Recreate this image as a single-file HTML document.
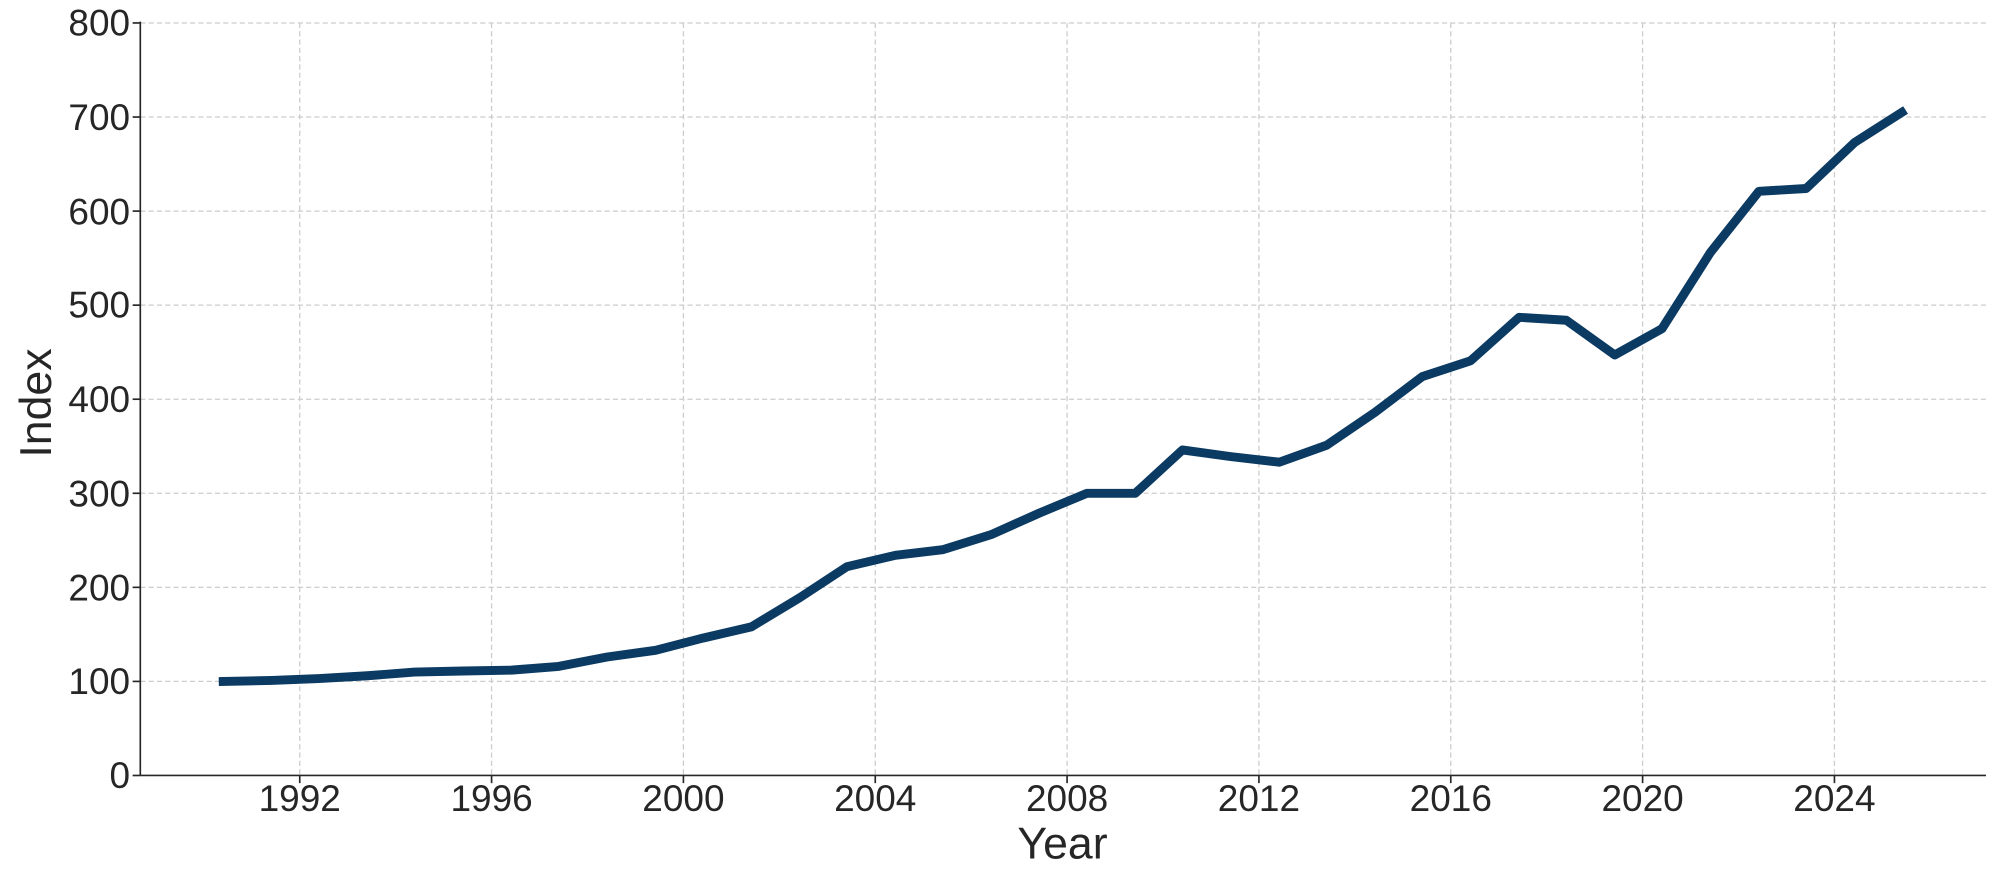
<!DOCTYPE html>
<html><head><meta charset="utf-8"><style>
html,body{margin:0;padding:0;background:#fff;overflow:hidden;}
svg{display:block;}
svg text{font-family:"Liberation Sans","DejaVu Sans",sans-serif;fill:#262626;}
</style></head><body>
<svg width="2000" height="883" viewBox="0 0 1568 692.3" preserveAspectRatio="none" xmlns="http://www.w3.org/2000/svg">
<g stroke="#cccccc" stroke-width="1" stroke-dasharray="4,2.5">
<line x1="110" x2="1557" y1="18" y2="18"/>
<line x1="110" x2="1557" y1="91.75" y2="91.75"/>
<line x1="110" x2="1557" y1="165.5" y2="165.5"/>
<line x1="110" x2="1557" y1="239.25" y2="239.25"/>
<line x1="110" x2="1557" y1="313" y2="313"/>
<line x1="110" x2="1557" y1="386.75" y2="386.75"/>
<line x1="110" x2="1557" y1="460.5" y2="460.5"/>
<line x1="110" x2="1557" y1="534.25" y2="534.25"/>
<line x1="235" x2="235" y1="18" y2="608"/>
<line x1="385.4" x2="385.4" y1="18" y2="608"/>
<line x1="535.8" x2="535.8" y1="18" y2="608"/>
<line x1="686.2" x2="686.2" y1="18" y2="608"/>
<line x1="836.6" x2="836.6" y1="18" y2="608"/>
<line x1="987" x2="987" y1="18" y2="608"/>
<line x1="1137.4" x2="1137.4" y1="18" y2="608"/>
<line x1="1287.8" x2="1287.8" y1="18" y2="608"/>
<line x1="1438.2" x2="1438.2" y1="18" y2="608"/>
</g>
<g stroke="#262626" stroke-width="1.3">
<line x1="110" x2="110" y1="17" y2="608"/>
<line x1="110" x2="1557" y1="608" y2="608"/>
<line x1="104" x2="110" y1="18" y2="18"/><line x1="104" x2="110" y1="91.75" y2="91.75"/><line x1="104" x2="110" y1="165.5" y2="165.5"/><line x1="104" x2="110" y1="239.25" y2="239.25"/><line x1="104" x2="110" y1="313" y2="313"/><line x1="104" x2="110" y1="386.75" y2="386.75"/><line x1="104" x2="110" y1="460.5" y2="460.5"/><line x1="104" x2="110" y1="534.25" y2="534.25"/><line x1="104" x2="110" y1="608" y2="608"/>
<line x1="235" x2="235" y1="608" y2="614"/><line x1="385.4" x2="385.4" y1="608" y2="614"/><line x1="535.8" x2="535.8" y1="608" y2="614"/><line x1="686.2" x2="686.2" y1="608" y2="614"/><line x1="836.6" x2="836.6" y1="608" y2="614"/><line x1="987" x2="987" y1="608" y2="614"/><line x1="1137.4" x2="1137.4" y1="608" y2="614"/><line x1="1287.8" x2="1287.8" y1="608" y2="614"/><line x1="1438.2" x2="1438.2" y1="608" y2="614"/>
</g>
<g font-size="29" text-anchor="end">
<text x="102" y="28">800</text><text x="102" y="102">700</text><text x="102" y="176">600</text><text x="102" y="249">500</text><text x="102" y="323">400</text><text x="102" y="397">300</text><text x="102" y="471">200</text><text x="102" y="544">100</text><text x="102" y="618">0</text>
</g>
<g font-size="29" text-anchor="middle">
<text x="235" y="636">1992</text><text x="385.4" y="636">1996</text><text x="535.8" y="636">2000</text><text x="686.2" y="636">2004</text><text x="836.6" y="636">2008</text><text x="987" y="636">2012</text><text x="1137.4" y="636">2016</text><text x="1287.8" y="636">2020</text><text x="1438.2" y="636">2024</text>
</g>
<text x="833" y="673" font-size="35" text-anchor="middle">Year</text>
<text transform="translate(40,316) rotate(-90)" font-size="35" text-anchor="middle">Index</text>
<polyline fill="none" stroke="#0b3a62" stroke-width="7" stroke-linejoin="round" stroke-linecap="square" points="175,534.3 213,533.5 250,532 288,529.8 325,526.9 363,526.1 401,525.4 438,522.5 476,515.1 514,509.9 551,500.3 589,491.5 627,468.6 664,444.3 702,435.4 739,431 777,419.2 815,402.2 852,386.8 890,386.8 927,352.8 965,358 1003,362.4 1040,349.1 1078,323.3 1115,295.3 1153,282.8 1191,248.8 1228,251.1 1266,278.3 1303,257.7 1341,197.9 1379,150 1416,147.8 1454,111.7 1491,88.1"/>
</svg>
</body></html>
